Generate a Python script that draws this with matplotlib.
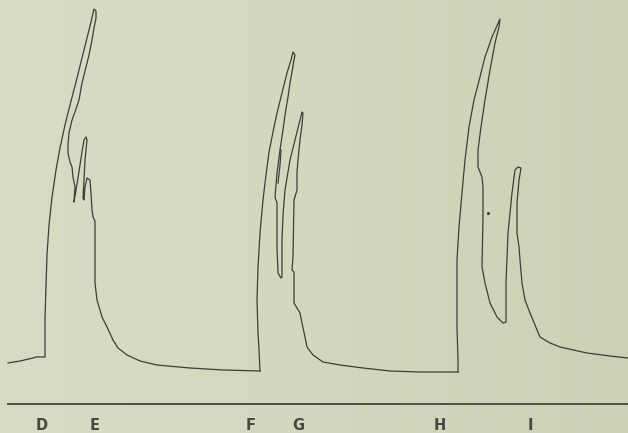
import numpy as np
import matplotlib
matplotlib.use("Agg")
import matplotlib.pyplot as plt

# Traced curve D-E (pixel coordinates of the original tracing: x, y)
de_points = [(8, 363), (20, 361), (33, 358), (36, 357), (45, 357), (45, 320),
             (46, 285), (47, 255), (49, 225), (52, 197), (56, 170), (60, 148),
             (65, 125), (70, 105), (76, 82), (82, 58), (87, 38), (91, 22),
             (94, 9), (96, 11), (96, 18), (94, 28), (92, 40), (89, 55),
             (86, 67), (82, 83), (79, 100), (75, 112), (72, 120), (69, 133),
             (68, 145), (68, 153), (70, 162), (72, 167), (73, 177), (75, 187),
             (74, 202), (76, 190), (78, 178), (80, 165), (82, 152), (84, 140),
             (86, 137), (87, 140), (86, 150), (85, 160), (84, 180), (83, 198),
             (84, 200), (85, 187), (87, 178), (90, 180), (91, 193), (92, 210),
             (93, 217), (95, 221), (95, 233), (95, 283), (97, 300),
             (102, 317), (107, 327), (113, 340), (118, 348), (127, 355),
             (140, 361), (157, 365), (190, 368), (223, 370), (260, 371)]

# Traced curve F-G
fg_points = [(260, 371), (259, 350), (258, 333), (257, 300), (258, 267),
             (260, 233), (263, 200), (266, 175), (269, 152), (273, 132),
             (277, 113), (282, 93), (287, 73), (291, 60), (293, 52), (295, 55),
             (294, 60), (292, 72), (290, 83), (288, 97), (285, 115), (283, 130),
             (280, 150), (277, 173), (275, 197), (277, 203), (277, 247),
             (278, 273), (281, 278), (282, 277), (282, 240), (283, 215),
             (285, 190), (290, 160), (295, 140), (299, 124), (302, 112),
             (303, 113), (302, 125), (300, 140), (298, 160), (297, 173),
             (297, 190), (294, 200), (293, 257), (292, 270), (294, 272),
             (294, 303), (300, 313), (302, 323), (305, 337), (307, 347),
             (313, 355), (323, 362), (340, 365), (363, 368), (390, 371),
             (420, 372), (458, 372)]

# Small detached spur inside F
spur_points = [(281, 150), (280, 165), (278, 183)]

# Traced curve H-I
hi_points = [(458, 372), (458, 360), (457, 327), (457, 293), (457, 260),
             (459, 227), (462, 193), (465, 160), (469, 127), (474, 100),
             (480, 77), (485, 57), (492, 37), (500, 19), (499, 27), (495, 43),
             (490, 70), (485, 100), (481, 127), (478, 150), (478, 167),
             (482, 177), (483, 187), (483, 217), (482, 267), (485, 283),
             (490, 303), (497, 317), (503, 323), (506, 322), (506, 283),
             (508, 233), (512, 193), (515, 170), (518, 167), (521, 168),
             (519, 180), (517, 203), (517, 233), (519, 247), (520, 260),
             (522, 283), (525, 300), (530, 313), (535, 325), (540, 337),
             (550, 343), (560, 347), (587, 353), (610, 356), (628, 358)]

dot_point = (488, 213)

# Signal line and letter labels
signal_x = [8, 628]
signal_y = [404, 404]
labels = ["D", "E", "F", "G", "H", "I"]
label_x = [42, 95, 251, 298, 440, 530]
label_y = 426

W, H = 628, 433
fig = plt.figure(figsize=(W / 100, H / 100), dpi=100)
ax = fig.add_axes([0, 0, 1, 1])
ax.set_xlim(0, W)
ax.set_ylim(H, 0)
ax.axis("off")

# paper background: light beige, slightly darker/greener to the right
left = np.array([218, 219, 196]) / 255
right = np.array([206, 209, 182]) / 255
t = np.linspace(0, 1, 256)[None, :, None]
grad = left[None, None, :] * (1 - t) + right[None, None, :] * t
ax.imshow(grad, extent=[0, W, H, 0], aspect="auto", zorder=0)

lc = "#3d3d3a"
for pts in [de_points, fg_points, spur_points, hi_points]:
    xs, ys = zip(*pts)
    ax.plot(xs, ys, color=lc, lw=0.9, solid_joinstyle="round", zorder=2)

ax.plot([dot_point[0]], [dot_point[1]], marker="o", ms=1.2, color=lc, zorder=2)
ax.plot(signal_x, signal_y, color="#444441", lw=1.3, zorder=2)

for lab, lx in zip(labels, label_x):
    ax.text(lx, label_y, lab, ha="center", va="center", fontsize=10.5,
            color="#484843", family="DejaVu Sans", fontweight="semibold")

fig.savefig("out.png", dpi=100)
